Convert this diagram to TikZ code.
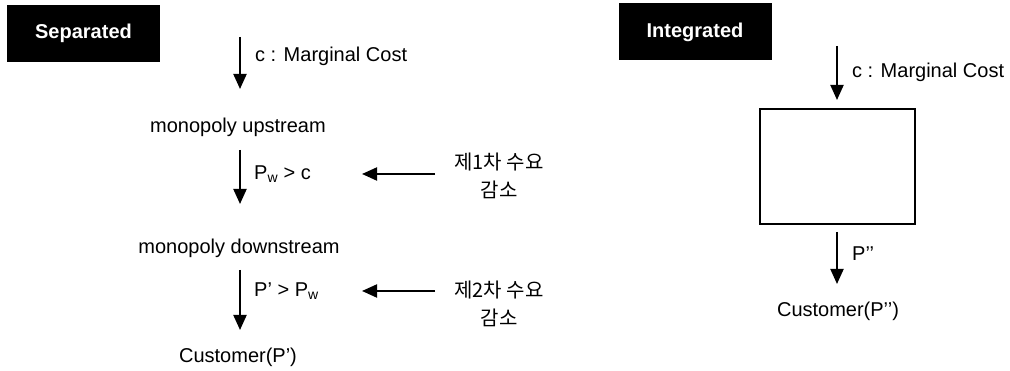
\documentclass[tikz,border=0pt]{standalone}
\usepackage{fontspec}
\setmainfont{Liberation Sans}
\newfontfamily\kr{Noto Sans CJK KR}
\usetikzlibrary{arrows.meta}
\begin{document}
\begin{tikzpicture}[x=1pt,y=-1pt,
  every node/.style={font=\fontsize{20}{24}\selectfont, inner sep=0pt},
  tag/.style={fill=black, text=white, font=\fontsize{20}{24}\selectfont\bfseries, minimum width=153pt, minimum height=57pt},
  lbl/.style={anchor=center},
  side/.style={anchor=west},
  krl/.style={font=\fontsize{20}{28}\selectfont\kr, align=center, anchor=center},
  darr/.style={line width=2pt, -{Triangle[width=13pt,length=15pt]}},
  bx/.style={draw, line width=2pt}]
\useasboundingbox (0,0) rectangle (1010,371);

% ---------- Separated ----------
\node[tag] (sep) at (83.5,33.5) {Separated};
\coordinate (a1s) at (240,37);
\coordinate (a1e) at (240,89);
\draw[darr] (a1s) -- (a1e);
\node[side] (mc1) at (255,56) {c : Marginal Cost};

\node[lbl] (mu) at (238,127) {monopoly upstream};
\coordinate (a2s) at (240,150);
\coordinate (a2e) at (240,204);
\draw[darr] (a2s) -- (a2e);
\node[side] (pw) at (254,174) {P\textsubscript{w} > c};

\node[krl] (k1) at (499,176) {제1차 수요\\감소};
\coordinate (l1s) at (435,174);
\coordinate (l1e) at (362,174);
\draw[darr] (l1s) -- (l1e);

\node[lbl] (md) at (239,248) {monopoly downstream};
\coordinate (a3s) at (240,270);
\coordinate (a3e) at (240,330);
\draw[darr] (a3s) -- (a3e);
\node[side] (pp) at (254,291) {P’ > P\textsubscript{w}};

\node[krl] (k2) at (499,304) {제2차 수요\\감소};
\coordinate (l2s) at (435,291);
\coordinate (l2e) at (362,291);
\draw[darr] (l2s) -- (l2e);

\node[lbl] (cu1) at (238,357) {Customer(P’)};

% ---------- Integrated ----------
\node[tag] (int) at (695,32) {Integrated};
\coordinate (b1s) at (837,46);
\coordinate (b1e) at (837,100);
\draw[darr] (b1s) -- (b1e);
\node[side] (mc2) at (852,72) {c : Marginal Cost};

\node[bx, minimum width=155pt, minimum height=115pt] (box) at (837.5,166.5) {};
\coordinate (b2s) at (837,232);
\coordinate (b2e) at (837,284);
\draw[darr] (b2s) -- (b2e);
\node[side] (p2) at (852,254) {P’’};

\node[lbl] (cu2) at (838,311) {Customer(P’’)};
\end{tikzpicture}
\end{document}
